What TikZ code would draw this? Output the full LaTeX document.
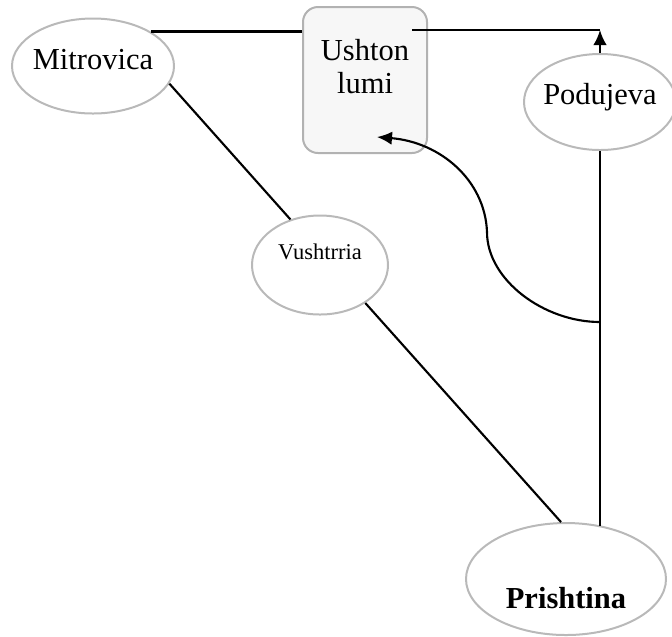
\documentclass[tikz,border=0pt]{standalone}
\usepackage{fontspec}
\setmainfont{Liberation Serif}
\usetikzlibrary{shapes.geometric}
\usetikzlibrary{arrows.meta, positioning}

\begin{document}
\begin{tikzpicture}[
    x = 0.4pt, y = -0.4pt,
    town/.style = {ellipse, draw=gray!55, line width=0.8pt,
    inner sep=0pt, inner xsep=-3pt,
    font=\fontsize{12.2pt}{13.2pt}\selectfont},
    lumi/.style = {rectangle, rounded corners=6pt, draw=gray!60,
    fill=gray!6, line width=0.8pt},
    road/.style = {black, line width=0.85pt},
    tip/.style = {-{Latex[length=6pt, width=5.4pt]}}
    ]
    \useasboundingbox (0,0) rectangle (672,636);
    %
    \node (Mitrovica) [town, minimum width=64.8pt, minimum height=38pt,
        text height=8.5pt, text depth=6.1pt] at (93,66) {Mitrovica};
    \node (Ushton) [lumi, minimum width=49.6pt, minimum height=58.4pt]
        at (365,80) {};
    \node (UshtonText) [align=center, inner sep=0pt,
        font=\fontsize{12.2pt}{13.2pt}\selectfont] at (365,67) {Ushton\\lumi};
    \node (Podujeva) [town, minimum width=60.8pt, minimum height=38.4pt,
        text height=8.5pt, text depth=6.9pt] at (600,102) {Podujeva};
    \node (Vushtrria) [town, minimum width=54.4pt, minimum height=39.6pt,
        text height=6.3pt, text depth=11.1pt,
        font=\fontsize{9pt}{10pt}\selectfont] at (320,265)
        {Vushtrria\hspace{5.6pt}};
    \node (Prishtina) [town, minimum width=80pt, minimum height=44.8pt,
        text height=24pt, text depth=0.8pt,
        font=\fontsize{12.2pt}{13.2pt}\selectfont\bfseries] at (566,579)
        {Prishtina\hspace{7.2pt}};
    %
    \coordinate (Corner) at (Podujeva.north |- 0,30);
    \coordinate (Split) at (Podujeva.south |- 0,322);
    %
    \draw [road] (Mitrovica.31) -- (Mitrovica.31 -| Ushton.west);
    \draw [road, shorten <=-6.4pt] (Ushton.east |- Corner) -- (Corner);
    \draw [road, tip] (Podujeva.north) -- (Corner);
    \draw [road] (Mitrovica.-13) -- (Vushtrria.123);
    \draw [road] (Vushtrria.-40) -- (Prishtina.95);
    \draw [road] (Podujeva.south) -- (Podujeva.south |- Prishtina.57);
    \draw [road, tip] (Split) .. controls +(-56,0) and +(0,48) .. (487,232)
        .. controls +(-2,-52) and +(63,5) .. ([shift={(12,57)}]Ushton.center);
\end{tikzpicture}
\end{document}
